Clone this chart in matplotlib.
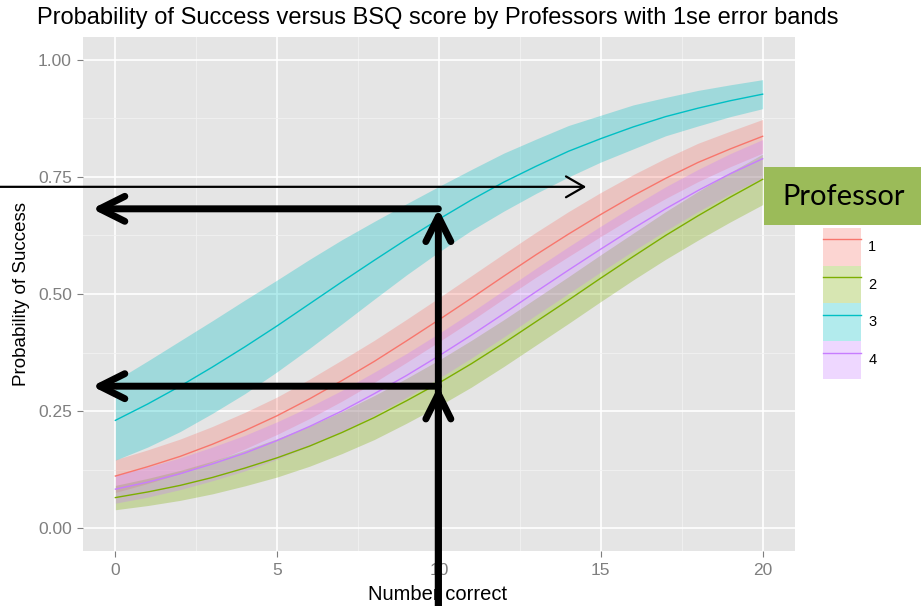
import matplotlib
matplotlib.use("Agg")
import matplotlib.pyplot as plt
from matplotlib.patches import Patch, Rectangle
from matplotlib.lines import Line2D
import numpy as np

plt.rcParams['font.family'] = ['Liberation Sans', 'DejaVu Sans']

# ---------------------------------------------------------------------------
# Data (fitted probability and 1 se, per professor)
# ---------------------------------------------------------------------------
score = list(range(21))
professors = ["1", "2", "3", "4"]

p_prof1 = [0.111, 0.131, 0.153, 0.179, 0.208, 0.240, 0.276, 0.315, 0.356, 0.400, 0.445,
           0.491, 0.538, 0.584, 0.628, 0.670, 0.710, 0.747, 0.781, 0.810, 0.837]
p_prof2 = [0.065, 0.077, 0.091, 0.108, 0.128, 0.150, 0.175, 0.204, 0.236, 0.272, 0.310,
           0.351, 0.395, 0.441, 0.487, 0.534, 0.580, 0.625, 0.667, 0.707, 0.745]
p_prof3 = [0.230, 0.265, 0.303, 0.344, 0.387, 0.432, 0.479, 0.526, 0.572, 0.617, 0.660,
           0.701, 0.739, 0.773, 0.805, 0.832, 0.857, 0.879, 0.897, 0.913, 0.927]
p_prof4 = [0.083, 0.098, 0.116, 0.137, 0.160, 0.187, 0.217, 0.250, 0.287, 0.326, 0.368,
           0.412, 0.458, 0.505, 0.551, 0.596, 0.640, 0.682, 0.721, 0.757, 0.789]

se_prof1 = [0.035, 0.036, 0.037, 0.038, 0.039, 0.040, 0.042, 0.044, 0.045, 0.046, 0.047,
            0.048, 0.048, 0.048, 0.048, 0.047, 0.045, 0.043, 0.041, 0.038, 0.036]
se_prof2 = [0.026, 0.029, 0.032, 0.035, 0.038, 0.041, 0.043, 0.045, 0.047, 0.048, 0.049,
            0.050, 0.050, 0.050, 0.050, 0.050, 0.050, 0.051, 0.052, 0.053, 0.054]
se_prof3 = [0.085, 0.092, 0.097, 0.099, 0.100, 0.098, 0.095, 0.090, 0.083, 0.076, 0.070,
            0.065, 0.062, 0.058, 0.055, 0.050, 0.047, 0.041, 0.038, 0.034, 0.031]
se_prof4 = [0.030, 0.032, 0.034, 0.036, 0.038, 0.040, 0.042, 0.044, 0.046, 0.047, 0.048,
            0.049, 0.050, 0.050, 0.050, 0.049, 0.048, 0.047, 0.045, 0.043, 0.041]

x_ticks = [0, 5, 10, 15, 20]
y_ticks = [0.00, 0.25, 0.50, 0.75, 1.00]
y_tick_labels = ["0.00", "0.25", "0.50", "0.75", "1.00"]

COLORS = ["#F8766D", "#7CAE00", "#00BFC4", "#C77CFF"]

# ---------------------------------------------------------------------------
# Figure
# ---------------------------------------------------------------------------
W, H = 921, 606
fig = plt.figure(figsize=(W / 100, H / 100), dpi=100)
ax = fig.add_axes([83 / W, (H - 551.4) / H, 712 / W, 514.8 / H])
ax.set_facecolor("#E5E5E5")
for s in ax.spines.values():
    s.set_visible(False)

x = np.array(score)
series = [(p_prof1, se_prof1), (p_prof2, se_prof2), (p_prof3, se_prof3), (p_prof4, se_prof4)]
for (p, se), c in zip(series, COLORS):
    p, se = np.array(p), np.array(se)
    ax.fill_between(x, p - se, p + se, color=c, alpha=0.3, lw=0, zorder=2)
for (p, se), c in zip(series, COLORS):
    ax.plot(x, p, color=c, lw=1.0, zorder=3)

ax.set_xlim(-1, 21)
ax.set_ylim(-0.05, 1.05)
ax.set_xticks(x_ticks)
ax.set_yticks(y_ticks)
ax.set_yticklabels(y_tick_labels)
ax.set_xticks([2.5, 7.5, 12.5, 17.5], minor=True)
ax.set_yticks([0.125, 0.375, 0.625, 0.875], minor=True)
ax.grid(which="major", color="white", lw=1.2, zorder=1)
ax.grid(which="minor", color="#F2F2F2", lw=0.6, zorder=1)
ax.set_axisbelow(True)
ax.tick_params(which="major", length=4, width=0.8, color="#7F7F7F",
               labelcolor="#7F7F7F", labelsize=12.5, pad=4)
ax.tick_params(which="minor", length=0)

fig.text(438 / W, 1 - 18 / H, "Probability of Success versus BSQ score by Professors with 1se error bands",
         ha="center", va="center", fontsize=17, color="black")
fig.text(438 / W, 1 - 595 / H, "Number correct", ha="center", va="center", fontsize=14.5)
fig.text(22 / W, 1 - 294 / H, "Probability of Success", ha="center", va="center",
         rotation=90, fontsize=13.5)

# legend
handles = [(Patch(facecolor=c, alpha=0.3, lw=0), Line2D([], [], color=c, lw=1.0)) for c in COLORS]
fig.legend(handles=handles, labels=professors, loc="upper left",
           bbox_to_anchor=(823 / W, 1 - 228 / H), bbox_transform=fig.transFigure,
           frameon=False, fontsize=10.5, handlelength=2.6, handleheight=3.6,
           labelspacing=0, borderpad=0, borderaxespad=0, handletextpad=0.5)

# ---------------------------------------------------------------------------
# Overlaid annotations (arrows + "Professor" box)
# ---------------------------------------------------------------------------
thick = dict(arrowstyle="->,head_length=1.8,head_width=0.9", lw=5, color="black",
             mutation_scale=10, shrinkA=0, shrinkB=0, capstyle="round", joinstyle="round")
thin = dict(arrowstyle="->,head_length=1.3,head_width=0.75", lw=1.6, color="black",
            mutation_scale=10, shrinkA=0, shrinkB=0)

ax.annotate("", xy=(14.55, 0.729), xytext=(-3.6, 0.729), arrowprops=thin,
            annotation_clip=False, zorder=5)
ax.annotate("", xy=(9.98, 0.682), xytext=(9.98, -0.17), arrowprops=thick,
            annotation_clip=False, zorder=5)
ax.annotate("", xy=(9.98, 0.303), xytext=(9.98, -0.17), arrowprops=thick,
            annotation_clip=False, zorder=5)
ax.annotate("", xy=(-0.72, 0.682), xytext=(9.98, 0.682), arrowprops=thick,
            annotation_clip=False, zorder=5)
ax.annotate("", xy=(-0.72, 0.303), xytext=(9.98, 0.303), arrowprops=thick,
            annotation_clip=False, zorder=5)

fig.patches.append(Rectangle((764 / W, 1 - 225 / H), (W - 764) / W, 58 / H,
                             transform=fig.transFigure, facecolor="#9BBB59",
                             edgecolor="none", zorder=6))
fig.text(844 / W, 1 - 197 / H, "Professor", ha="center", va="center", fontsize=21,
         family=["Lato", "DejaVu Sans"], color="black", zorder=7)

fig.savefig("out.png", dpi=100)
